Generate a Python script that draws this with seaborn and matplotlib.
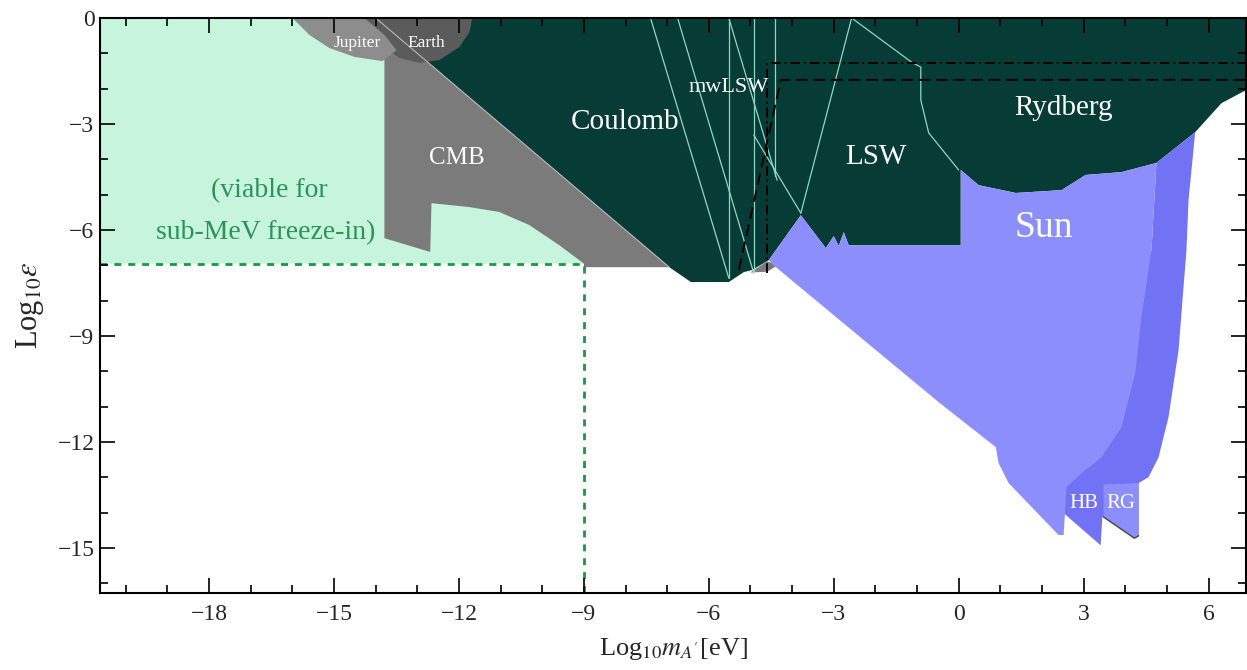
import matplotlib
matplotlib.use("Agg")
import matplotlib.pyplot as plt
import seaborn as sns
import pandas as pd

# exclusion regions in (log10 m_A' [eV], log10 eps)
viable_x = [-20.62, -12.66, -12.66, -11.75, -11.03, -10.31, -9.59, -9.0, -20.62]
viable_y = [0.0, 0.0, -5.24, -5.35, -5.49, -5.86, -6.43, -6.95, -6.95]

cmb_x = [-13.79, -13.79, -12.69, -12.66, -11.75, -11.03, -10.31, -9.59, -9.0, -9.0, -6.95, -14.0]
cmb_y = [-1.2, -6.23, -6.62, -5.24, -5.35, -5.49, -5.86, -6.43, -6.95, -7.05, -7.05, 0.0]

earth_x = [-14.32, -14.10, -13.79, -13.43, -12.95, -12.47, -11.99, -11.75, -11.68]
earth_y = [0.0, -0.48, -0.85, -1.13, -1.27, -1.19, -0.82, -0.40, 0.0]

jupiter_x = [-16.0, -15.59, -15.11, -14.51, -13.84, -13.50, -13.79, -14.27]
jupiter_y = [0.0, -0.48, -0.85, -1.10, -1.22, -0.91, -0.48, 0.0]

# Coulomb + mwLSW + LSW + Rydberg share one colour
lab_x = [-14.0, -6.95, -6.43, -5.52, -5.16, -4.96, -4.56, -3.79, -3.19, -3.00, -2.88, -2.76,
         -2.64, 0.05, 0.05, 0.48, 1.37, 2.47, 3.05, 3.91, 4.75, 5.68, 6.31, 6.90, 6.90]
lab_y = [0.0, -7.05, -7.47, -7.47, -7.19, -7.13, -6.85, -5.58, -6.51, -6.17, -6.45, -6.06,
         -6.43, -6.43, -4.30, -4.73, -4.95, -4.87, -4.44, -4.36, -4.10, -3.23, -2.41, -2.04, 0.0]

sun_x = [-4.56, -3.79, -3.19, -3.00, -2.88, -2.76, -2.64, 0.05, 0.05, 0.48, 1.37, 2.47, 3.05,
         3.91, 4.75, 4.63, 4.39, 4.24, 3.91, 3.43, 2.95, 2.59, 2.52, 2.40, 1.20, 0.96, 0.89,
         -0.48, -4.44]
sun_y = [-6.85, -5.58, -6.51, -6.17, -6.45, -6.06, -6.43, -6.43, -4.30, -4.73, -4.95, -4.87,
         -4.44, -4.36, -4.10, -6.57, -8.46, -10.05, -11.58, -12.43, -12.88, -13.27, -14.63,
         -14.63, -13.16, -12.60, -12.14, -10.87, -7.0]

hb_x = [4.75, 5.68, 5.52, 5.47, 5.28, 5.04, 4.80, 4.56, 4.32, 4.32, 3.50, 3.45, 3.41, 2.52,
        2.52, 4.63]
hb_y = [-4.10, -3.23, -5.15, -6.57, -9.40, -11.29, -12.43, -12.99, -13.16, -14.69, -14.12,
        -14.12, -14.92, -14.01, -13.27, -6.57]

rg_x = [3.48, 4.32, 4.32, 4.22, 3.48]
rg_y = [-13.2, -13.16, -14.65, -14.72, -14.12]

ledge_x = [-5.0, -4.6, -4.35, -4.6]
ledge_y = [-7.2, -6.88, -7.0, -7.18]

# thin light contour lines inside the lab region
contours = {
    "a": ([-7.40, -5.52], [0.0, -7.36]),
    "b": ([-6.75, -4.92], [0.0, -7.22]),
    "c": ([-5.52, -5.52], [0.0, -7.36]),
    "d": ([-4.92, -4.92], [0.0, -7.15]),
    "e": ([-4.41, -4.41], [0.0, -4.47]),
    "f": ([-5.52, -4.36], [0.0, -4.59]),
    "g": ([-4.92, -3.79], [-3.31, -5.52]),
    "h": ([-2.57, -3.79], [0.0, -5.52]),
    "i": ([-2.57, -1.13, -0.91, -0.91, -0.72, 0.0], [0.0, -1.25, -1.39, -2.32, -3.25, -4.30]),
}

dashdot_x = [-4.60, -4.60, 6.90]
dashdot_y = [-7.22, -1.27, -1.27]
dashed_x = [-5.28, -4.27, 6.90]
dashed_y = [-7.13, -1.75, -1.75]

freeze_x = [-20.62, -9.0, -9.0]
freeze_y = [-6.95, -6.95, -16.3]

xticks_major = [-18, -15, -12, -9, -6, -3, 0, 3, 6]
yticks_major = [0, -3, -6, -9, -12, -15]

sns.set_theme(style="ticks")
plt.rcParams["font.family"] = ["Liberation Serif", "DejaVu Serif"]
plt.rcParams["mathtext.fontset"] = "stix"

fig = plt.figure(figsize=(12.47, 6.70), dpi=100)
ax = fig.add_axes([0.0802, 0.1149, 0.9190, 0.8582])

ax.fill(viable_x, viable_y, color="#c6f4dc", lw=0)
ax.fill(cmb_x, cmb_y, color="#7b7b7b", lw=0)
ax.fill(lab_x, lab_y, color="#063c35", lw=0)
ax.fill(earth_x, earth_y, color="#5b5b5b", lw=0)
ax.fill(jupiter_x, jupiter_y, color="#8d8d8d", lw=0)
ax.fill(ledge_x, ledge_y, color="#7b7b7b", lw=0)
ax.plot([-14.0, -6.95], [0.0, -7.05], color="#b8b8b8", lw=0.8)

for key, (cx, cy) in contours.items():
    sns.lineplot(x=cx, y=cy, sort=False, estimator=None, color="#8fd6c6", lw=0.9, ax=ax)

ax.fill(hb_x, hb_y, color="#7272f5", lw=0)
ax.fill(sun_x, sun_y, color="#8c8ffb", lw=0)
ax.fill(rg_x, rg_y, color="#8c8ffb", lw=0)
ax.plot(rg_x[2:], rg_y[2:], color="#444444", lw=1.0)

sns.lineplot(x=dashdot_x, y=dashdot_y, sort=False, estimator=None, color="black",
             lw=1.4, ax=ax, linestyle=(0, (5, 2, 1, 2)))
sns.lineplot(x=dashed_x, y=dashed_y, sort=False, estimator=None, color="black",
             lw=1.4, ax=ax, linestyle=(0, (6, 3)))
sns.lineplot(x=freeze_x, y=freeze_y, sort=False, estimator=None, color="#159a3e",
             lw=2.0, ax=ax, linestyle=(0, (2.5, 2.5)))

white = dict(color="white", ha="center", va="center")
ax.text(-14.44, -0.70, "Jupiter", fontsize=12.5, **white)
ax.text(-12.78, -0.70, "Earth", fontsize=12.5, **white)
ax.text(-12.04, -3.96, "CMB", fontsize=18, **white)
ax.text(-8.0, -2.94, "Coulomb", fontsize=21, **white)
ax.text(-5.52, -1.98, "mwLSW", fontsize=16, **white)
ax.text(-1.99, -3.93, "LSW", fontsize=21, **white)
ax.text(2.52, -2.55, "Rydberg", fontsize=21, **white)
ax.text(2.04, -5.94, "Sun", fontsize=27, **white)
ax.text(3.0, -13.73, "HB", fontsize=15, **white)
ax.text(3.90, -13.73, "RG", fontsize=15, **white)
ax.text(-16.55, -4.87, "(viable for", fontsize=20, color="#2a9458", ha="center", va="center")
ax.text(-16.65, -6.06, "sub-MeV freeze-in)", fontsize=20, color="#2a9458", ha="center", va="center")

ax.set_xlim(-20.62, 6.9)
ax.set_ylim(-16.27, 0)
ax.set_xticks(xticks_major)
ax.set_xticklabels(["\u2212%d" % -t if t < 0 else "%d" % t for t in xticks_major])
ax.set_yticks(yticks_major)
ax.set_yticklabels(["\u2212%d" % -t if t < 0 else "%d" % t for t in yticks_major])
ax.set_xticks(range(-20, 7), minor=True)
ax.set_yticks(range(-16, 1), minor=True)
ax.tick_params(which="both", direction="in", top=True, right=True, labelsize=17,
               color="black", width=1.2)
ax.tick_params(which="major", length=11)
ax.tick_params(which="minor", length=6)
ax.tick_params(axis="x", which="major", pad=8)
ax.tick_params(axis="y", which="major", pad=4)
for s in ax.spines.values():
    s.set_color("black")
    s.set_linewidth(1.5)
    s.set_zorder(5)
ax.set_axisbelow(False)

ax.set_xlabel(r"Log$_{10}m_{A'}$[eV]", fontsize=19, labelpad=8)
ax.set_ylabel(r"Log$_{10}\epsilon$", fontsize=22, labelpad=8)
if ax.get_legend() is not None:
    ax.get_legend().remove()

fig.savefig("out.png", dpi=100)
